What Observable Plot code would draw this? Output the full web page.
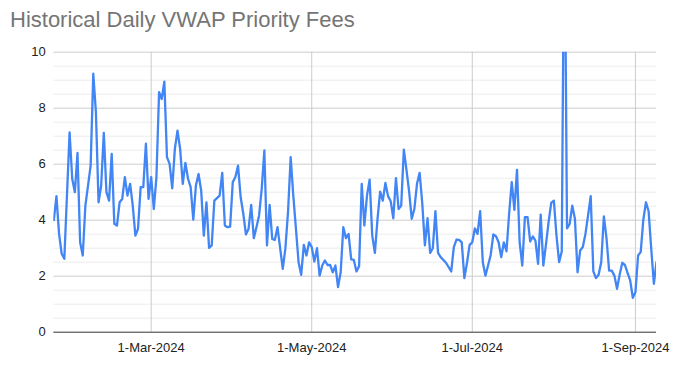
<!DOCTYPE html>
<html><head><meta charset="utf-8">
<script src="https://cdn.jsdelivr.net/npm/d3@7"></script>
<script src="https://cdn.jsdelivr.net/npm/@observablehq/plot@0.6"></script>
<style>body{margin:0;background:#fff;} #chart{position:relative;width:690px;height:369px;}</style>
</head><body><div id="chart"></div>
<script>
const title = "Historical Daily VWAP Priority Fees";
const dates = [
"2024-01-24","2024-01-25","2024-01-26","2024-01-27","2024-01-28","2024-01-30","2024-01-31",
"2024-02-01","2024-02-02","2024-02-03","2024-02-04","2024-02-05","2024-02-07","2024-02-08","2024-02-09","2024-02-10","2024-02-11","2024-02-12","2024-02-13","2024-02-14","2024-02-15","2024-02-16","2024-02-17","2024-02-18","2024-02-19","2024-02-20","2024-02-21","2024-02-22","2024-02-23","2024-02-24","2024-02-25","2024-02-26","2024-02-27","2024-02-28","2024-02-29",
"2024-03-01","2024-03-02","2024-03-03","2024-03-04","2024-03-05","2024-03-06","2024-03-07","2024-03-08","2024-03-09","2024-03-10","2024-03-11","2024-03-12","2024-03-13","2024-03-14","2024-03-15","2024-03-16","2024-03-17","2024-03-18","2024-03-19","2024-03-20","2024-03-21","2024-03-22","2024-03-23","2024-03-24","2024-03-25","2024-03-27","2024-03-28","2024-03-29","2024-03-30","2024-03-31",
"2024-04-01","2024-04-02","2024-04-03","2024-04-04","2024-04-05","2024-04-06","2024-04-07","2024-04-08","2024-04-09","2024-04-10","2024-04-11","2024-04-12","2024-04-13","2024-04-14","2024-04-15","2024-04-16","2024-04-17","2024-04-18","2024-04-20","2024-04-21","2024-04-22","2024-04-23","2024-04-24","2024-04-25","2024-04-26","2024-04-27","2024-04-28","2024-04-29","2024-04-30",
"2024-05-01","2024-05-02","2024-05-03","2024-05-04","2024-05-05","2024-05-06","2024-05-07","2024-05-08","2024-05-09","2024-05-10","2024-05-11","2024-05-12","2024-05-13","2024-05-14","2024-05-15","2024-05-16","2024-05-17","2024-05-18","2024-05-19","2024-05-20","2024-05-21","2024-05-22","2024-05-23","2024-05-24","2024-05-25","2024-05-26","2024-05-27","2024-05-28","2024-05-29","2024-05-30","2024-05-31",
"2024-06-01","2024-06-02","2024-06-03","2024-06-04","2024-06-05","2024-06-06","2024-06-07","2024-06-08","2024-06-09","2024-06-10","2024-06-11","2024-06-12","2024-06-13","2024-06-14","2024-06-15","2024-06-16","2024-06-17","2024-06-18","2024-06-19","2024-06-21","2024-06-23","2024-06-24","2024-06-25","2024-06-26","2024-06-27","2024-06-28","2024-06-29","2024-06-30",
"2024-07-01","2024-07-02","2024-07-03","2024-07-04","2024-07-05","2024-07-06","2024-07-07","2024-07-08","2024-07-09","2024-07-10","2024-07-11","2024-07-12","2024-07-13","2024-07-14","2024-07-15","2024-07-16","2024-07-17","2024-07-18","2024-07-19","2024-07-20","2024-07-21","2024-07-22","2024-07-23","2024-07-24","2024-07-25","2024-07-26","2024-07-27","2024-07-28","2024-07-29","2024-07-30","2024-07-31",
"2024-08-01","2024-08-02","2024-08-03","2024-08-04","2024-08-05","2024-08-06","2024-08-07","2024-08-08","2024-08-09","2024-08-10","2024-08-11","2024-08-12","2024-08-13","2024-08-14","2024-08-15","2024-08-16","2024-08-17","2024-08-18","2024-08-19","2024-08-20","2024-08-21","2024-08-22","2024-08-23","2024-08-24","2024-08-25","2024-08-26","2024-08-27","2024-08-28","2024-08-29","2024-08-30","2024-08-31",
"2024-09-01","2024-09-02","2024-09-03","2024-09-04","2024-09-05","2024-09-06","2024-09-07","2024-09-08","2024-09-09"
];
const fees = [
4.0,4.86,3.51,2.80,2.62,7.14,5.48,
5.0,6.40,3.21,2.74,4.52,5.95,9.23,7.86,4.64,5.24,7.12,5.0,4.70,6.37,3.87,3.81,4.64,4.76,5.54,4.88,5.30,4.52,3.45,3.69,5.18,5.18,6.73,4.76,
5.54,4.40,5.54,8.57,8.33,8.95,6.25,6.01,5.14,6.55,7.20,6.55,5.30,6.05,5.48,5.18,4.02,5.24,5.65,5.06,3.45,4.64,3.01,3.10,4.70,4.88,5.69,3.81,3.75,3.77,
5.36,5.54,5.95,4.82,4.23,3.49,3.69,4.55,3.36,3.75,4.17,5.12,6.49,3.10,4.55,3.33,3.30,3.75,2.26,3.0,4.3,6.25,4.88,3.7,2.5,2.05,3.12,2.74,3.21,
3.04,2.52,3.0,2.02,2.38,2.56,2.40,2.40,2.14,2.38,1.61,2.14,3.75,3.36,3.51,2.60,2.58,2.17,2.36,5.30,3.81,4.88,5.45,3.45,2.83,4.05,5.02,4.70,5.33,4.86,4.68,
4.07,5.50,4.40,4.52,6.52,5.8,5.03,4.05,4.40,5.30,5.69,4.6,3.10,4.07,2.83,3.0,4.32,2.83,2.68,2.48,2.17,3.04,3.31,3.30,3.21,1.93,2.48,3.12,
3.21,3.71,3.51,4.32,2.50,2.02,2.38,2.76,3.49,3.43,3.21,2.68,3.21,2.89,4.23,5.36,4.37,5.80,3.21,2.38,4.11,4.11,3.24,3.42,3.27,2.44,4.20,2.38,3.13,3.93,4.62,
4.70,3.45,2.50,2.88,16,3.71,3.87,4.52,4.05,2.14,2.92,3.04,3.51,4.17,4.86,2.17,1.93,2.05,2.50,4.14,3.36,2.20,2.20,2.02,1.55,2.05,2.48,2.40,2.12,1.85,1.23,
1.43,2.74,2.86,4.02,4.64,4.32,2.98,1.73,2.5
];
const yMajorTicks = [0,2,4,6,8,10];
const yMinorTicks = [0.5,1,1.5,2.5,3,3.5,4.5,5,5.5,6.5,7,7.5,8.5,9,9.5];
const xTickDates = ["2024-03-01","2024-05-01","2024-07-01","2024-09-01"];
const xDomain = ["2024-01-24","2024-09-09"];

const data = dates.map((d,i)=>({date:new Date(d), fee:fees[i]}));
const xTicks = xTickDates.map(d=>new Date(d));

const chart = Plot.plot({
  width: 690, height: 369,
  marginTop: 51.7, marginBottom: 37.3, marginLeft: 53.3, marginRight: 34,
  style: {fontFamily: "'Liberation Sans', Arial, sans-serif", fontSize: "13px", color: "#222", background: "#fff", overflow: "visible"},
  x: {type: "utc", domain: xDomain.map(d=>new Date(d))},
  y: {domain: [0,10]},
  marks: [
    Plot.ruleY(yMinorTicks, {stroke: "#ececec"}),
    Plot.ruleY(yMajorTicks.filter(v=>v>0), {stroke: "#cccccc"}),
    Plot.ruleX(xTicks, {stroke: "#cccccc"}),
    Plot.axisY({ticks: yMajorTicks, tickSize: 0, tickPadding: 8, label: null}),
    Plot.axisX({ticks: xTicks, tickSize: 0, tickPadding: 11, tickFormat: d3.utcFormat("%-d-%b-%Y"), label: null}),
    Plot.line(data, {x: "date", y: "fee", stroke: "#4285F4", strokeWidth: 2.3, clip: true}),
    Plot.ruleY([0], {stroke: "#333"})
  ]
});
d3.select(chart).append("text")
  .attr("x", 10).attr("y", 27)
  .attr("text-anchor", "start")
  .attr("font-size", 22).attr("fill", "#757575")
  .attr("font-family", "'Liberation Sans', Arial, sans-serif")
  .text(title);
document.getElementById("chart").appendChild(chart);
</script>
</body></html>
